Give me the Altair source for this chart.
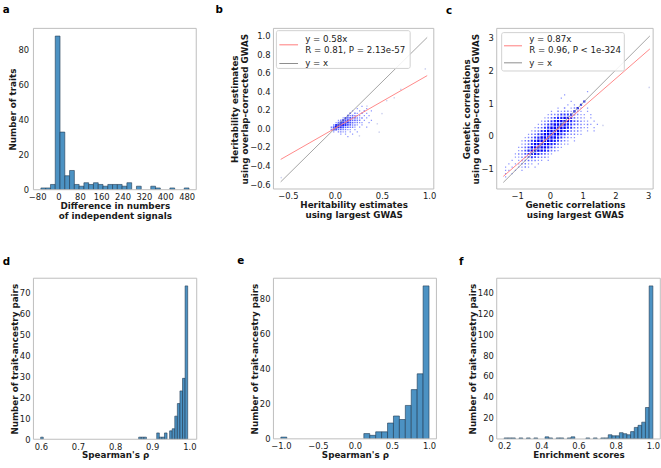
import altair as alt
import pandas as pd

FONT = "DejaVu Sans"
BAR_FILL = "#4c92c3"
BAR_EDGE = "#1f3850"
FRAME = "#bdbdbd"
RED = "#ff7a7a"
GREY = "#8c8c8c"
TEXT = "#1a1a1a"

# ---------------- data ----------------
# (a) difference in numbers of independent signals, equal-width bins
a_start, a_step = -66.0, 17.9
a_counts = [1, 1, 3, 88, 33, 8, 11, 3, 2, 4, 3, 4, 3, 2, 3, 3, 3, 2, 4, 0,
            2, 0, 0, 2, 1, 0, 0, 1, 0, 0, 1]
a_xticks = [-80, 0, 80, 160, 240, 320, 400, 480]
a_yticks = [0, 20, 40, 60, 80]

# (b) heritability estimates: regression, statistics and binned point density
b_slope = 0.58
b_stats = "R = 0.81, P = 2.13e-57"
b_line_x = [-0.576, 0.98]
b_grid_x0, b_grid_top, b_cell = -0.1, 0.25, 0.025
b_rows = [
    (15, "1"),
    (13, "1...1"),
    (11, "1..1.2..1"),
    (10, "3.21.2.1"),
    (9, "423221.1.1"),
    (7, "153433212.1"),
    (5, "1264543322.1..1"),
    (4, "137565432211..1"),
    (3, "25766543221.1"),
    (2, "24865433221.1..1"),
    (2, "254332211.1"),
    (3, "1.2211.1..1"),
    (6, "1.1..1"),
    (9, "1"),
]
b_sparse_x = [0.45, 0.50, 0.55, 0.63, 0.70, 0.47, 0.96, -0.57, 0.34, 0.26]
b_sparse_y = [0.05, 0.16, 0.30, 0.33, 0.42, -0.04, 0.64, -0.53, 0.24, -0.08]
b_xticks = [-0.5, 0.0, 0.5, 1.0]
b_yticks = [-0.6, -0.4, -0.2, 0.0, 0.2, 0.4, 0.6, 0.8, 1.0]

# (c) genetic correlations
c_slope = 0.87
c_stats = "R = 0.96, P < 1e-324"
c_line_x = [-1.42, 3.05]
c_grid_x0, c_grid_top, c_cell = -1.5, 1.4, 0.1
c_rows = [
    (26, "1"),
    (19, "1"),
    (18, "1"),
    (21, "1...7"),
    (20, "1.1.7"),
    (17, "1.2.1281.1"),
    (15, "1.21221821.1"),
    (14, "122355583211.1"),
    (13, "1235679963221.1"),
    (12, "123579999643211.1"),
    (11, "12357999985432121.1"),
    (10, "12357999997532211.1"),
    (9, "1235799999753221.1.1"),
    (8, "12357999997532211"),
    (7, "1235799999753211"),
    (6, "123579999975321.1"),
    (6, "123599999753211"),
    (5, "12359999975321"),
    (5, "1247999975321"),
    (4, "122468864321"),
    (4, "11234543221"),
    (3, "1.12232211.1"),
    (2, "1.112211.1"),
    (1, "1.1.1121.1"),
    (1, "11.1.1"),
    (1, "1.1"),
    (1, "1"),
]
c_sparse_x = [3.03, 1.62]
c_sparse_y = [1.48, 0.32]
c_xticks = [-1, 0, 1, 2, 3]
c_yticks = [-1, 0, 1, 2, 3]

# (d) Spearman's rho, first ancestry set
d_start, d_step = 0.5995, 0.00695
d_counts = [1, 0, 0, 0, 0, 0, 0, 0, 0, 0, 0, 0, 0, 0, 0, 0, 0, 0, 0, 0,
            0, 0, 0, 0, 0, 0, 0, 0, 0, 0, 0, 0, 0, 0, 0, 0, 0, 0, 1, 1,
            1, 0, 0, 0, 0, 3, 1, 1, 3, 0, 4, 5, 11, 17, 23, 29, 73]
d_xticks = [0.6, 0.7, 0.8, 0.9, 1.0]
d_yticks = [0, 10, 20, 30, 40, 50, 60, 70]

# (e) Spearman's rho, second ancestry set
e_start, e_step = -1.0, 0.08
e_counts = [1, 0, 0, 0, 0, 0, 0, 0, 0, 0, 0, 0, 0, 0, 3, 2, 4, 4, 9, 13,
            11, 19, 28, 37, 87]
e_xticks = [-1.0, -0.5, 0.0, 0.5, 1.0]
e_yticks = [0, 20, 40, 60, 80]

# (f) enrichment scores
f_start, f_step = 0.2, 0.02
f_counts = [1, 1, 1, 0, 1, 0, 1, 0, 1, 0, 0, 2, 1, 0, 1, 1, 0, 1, 2, 0,
            0, 0, 1, 0, 1, 0, 1, 1, 4, 3, 3, 6, 5, 4, 7, 11, 13, 16, 30, 146]
f_xticks = [0.2, 0.4, 0.6, 0.8, 1.0]
f_yticks = [0, 20, 40, 60, 80, 100, 120, 140]

ONE = pd.DataFrame({"t": [0]})


# ---------------- helpers ----------------
def letter_mark(letter, dx, dy):
    return alt.Chart(ONE).mark_text(
        align="left", baseline="alphabetic", font=FONT, fontSize=10.5,
        fontWeight="bold", color="black"
    ).encode(x=alt.value(dx), y=alt.value(dy), text=alt.value(letter))


def frame_mark(w, h):
    # light grey box around the plotting area
    return alt.Chart(ONE).mark_rect(
        fillOpacity=0, stroke=FRAME, strokeWidth=1
    ).encode(x=alt.value(0), x2=alt.value(w), y=alt.value(0), y2=alt.value(h))


def anchor_mark(dx, dy):
    # invisible 1px box fixing the top-left corner of the figure
    return alt.Chart(ONE).mark_rect(opacity=0).encode(
        x=alt.value(dx), x2=alt.value(dx + 1), y=alt.value(dy), y2=alt.value(dy + 1)
    )


def xaxis(values, fmt, title):
    return alt.Axis(values=values, format=fmt, title=title, titlePadding=0.5)


def yaxis(values, fmt, title, pad=3.5):
    return alt.Axis(values=values, format=fmt, title=title, titlePadding=0,
                    labelPadding=pad)


def hist_panel(letter, lpos, start, step, counts, xdom, ydom, xticks, yticks,
               xfmt, xtitle, ytitle, w, h, anchor=None, ypad=3.5):
    lo = [start + k * step for k in range(len(counts))]
    df = pd.DataFrame({"lo": lo, "hi": [v + step for v in lo], "n": counts})
    df = df[df["n"] > 0]
    bars = alt.Chart(df).mark_rect(
        fill=BAR_FILL, stroke=BAR_EDGE, strokeWidth=0.6, clip=True
    ).encode(
        x=alt.X("lo:Q", scale=alt.Scale(domain=xdom, nice=False, zero=False),
                axis=xaxis(xticks, xfmt, xtitle)),
        x2="hi:Q",
        y=alt.Y("n:Q", scale=alt.Scale(domain=ydom, nice=False, zero=False),
                axis=yaxis(yticks, "d", ytitle, ypad)),
        y2=alt.datum(0),
    )
    layers = [bars, frame_mark(w, h), letter_mark(letter, *lpos)]
    if anchor:
        layers.append(anchor_mark(*anchor))
    return alt.layer(*layers).properties(width=w, height=h)


def grid_points(rows, x0, top, cell):
    xs, ys, lv = [], [], []
    for j, (start, pattern) in enumerate(rows):
        for k, ch in enumerate(pattern):
            if ch != ".":
                xs.append(x0 + (start + k + 0.5) * cell)
                ys.append(top - (j + 0.5) * cell)
                lv.append(int(ch))
    return pd.DataFrame({"x": xs, "y": ys, "level": lv})


def scatter_panel(letter, lpos, cloud_df, sparse_df, sizes, slope, stats,
                  line_x, xdom, ydom, xticks, yticks, xfmt, yfmt, xtitle,
                  ytitle, w, h, lg):
    X = alt.X("x:Q", scale=alt.Scale(domain=xdom, nice=False, zero=False),
              axis=xaxis(xticks, xfmt, xtitle))
    Y = alt.Y("y:Q", scale=alt.Scale(domain=ydom, nice=False, zero=False),
              axis=yaxis(yticks, yfmt, ytitle))
    faint = alt.Chart(sparse_df).mark_circle(
        color="#cfd3ef", size=3, opacity=1, clip=True
    ).encode(x=X, y=Y)
    cloud = alt.Chart(cloud_df).mark_square(opacity=1, clip=True).encode(
        x=X, y=Y,
        color=alt.Color("level:Q", legend=None,
                        scale=alt.Scale(domain=[1, 5, 9],
                                        range=["#8c95ff", "#2a33ff", "#0000f5"])),
        size=alt.Size("level:Q", legend=None,
                      scale=alt.Scale(domain=[1, 5, 9], range=sizes)),
        order="level:Q",
    )
    ident = alt.Chart(pd.DataFrame({"x": line_x, "y": line_x})).mark_line(
        color=GREY, strokeWidth=0.8, clip=True
    ).encode(x=X, y=Y)
    fit = alt.Chart(pd.DataFrame({"x": line_x, "y": [slope * v for v in line_x]})).mark_line(
        color=RED, strokeWidth=0.9, clip=True
    ).encode(x=X, y=Y)

    box = alt.Chart(ONE).mark_rect(
        fill="white", fillOpacity=0.85, stroke="#d0d0d0", strokeWidth=1, cornerRadius=2
    ).encode(x=alt.value(lg["bx0"]), x2=alt.value(lg["bx1"]),
             y=alt.value(lg["by0"]), y2=alt.value(lg["by1"]))
    red_key = alt.Chart(ONE).mark_rule(color=RED, strokeWidth=1).encode(
        x=alt.value(lg["kx0"]), x2=alt.value(lg["kx1"]), y=alt.value(lg["ky_fit"]))
    grey_key = alt.Chart(ONE).mark_rule(color=GREY, strokeWidth=1).encode(
        x=alt.value(lg["kx0"]), x2=alt.value(lg["kx1"]), y=alt.value(lg["ky_id"]))

    def legend_text(txt, ty):
        return alt.Chart(ONE).mark_text(
            align="left", baseline="middle", font=FONT, fontSize=8.8, color=TEXT
        ).encode(x=alt.value(lg["tx"]), y=alt.value(ty), text=alt.value(txt))

    layers = [cloud, faint, ident, fit, box, red_key, grey_key,
              legend_text(f"y = {slope:.2f}x", lg["t1"]),
              legend_text(stats, lg["t2"]),
              legend_text("y = x", lg["ky_id"]),
              frame_mark(w, h),
              letter_mark(letter, *lpos)]
    return alt.layer(*layers).properties(width=w, height=h)


def spacer(w):
    return alt.Chart(ONE).mark_point(opacity=0).encode(
        x=alt.value(0), y=alt.value(0)
    ).properties(width=w, height=10)


# ---------------- panels ----------------
panel_a = hist_panel(
    "a", (-31.3, -15.5), a_start, a_step, a_counts, [-94, 516], [0, 92.4],
    a_xticks, a_yticks, "d", ["Difference in numbers", "of independent signals"],
    "Number of traits", 165.5, 164, anchor=(-34, -25), ypad=5)

panel_b = scatter_panel(
    "b", (-59, -16), grid_points(b_rows, b_grid_x0, b_grid_top, b_cell),
    pd.DataFrame({"x": b_sparse_x, "y": b_sparse_y}), [1.6, 4.0, 6.0],
    b_slope, b_stats, b_line_x, [-0.653, 1.05], [-0.653, 1.077],
    b_xticks, b_yticks, ".1f", ".1f",
    ["Heritability estimates", "using largest GWAS"],
    ["Heritability estimates", "using overlap-corrected GWAS"], 163, 163.3,
    dict(bx0=3, bx1=139, by0=2.3, by1=40.7, kx0=6, kx1=25, ky_fit=16.7,
         ky_id=35.7, tx=32.3, t1=11.3, t2=22.3))

panel_c = scatter_panel(
    "c", (-51.6, -15), grid_points(c_rows, c_grid_x0, c_grid_top, c_cell),
    pd.DataFrame({"x": c_sparse_x, "y": c_sparse_y}), [3.5, 9.5, 12.5],
    c_slope, c_stats, c_line_x, [-1.62, 3.15], [-1.62, 3.28],
    c_xticks, c_yticks, "d", "d",
    ["Genetic correlations", "using largest GWAS"],
    ["Genetic correlations", "using overlap-corrected GWAS"], 159, 163.3,
    dict(bx0=5, bx1=129.7, by0=4.3, by1=43.3, kx0=7.4, kx1=25.7, ky_fit=17.7,
         ky_id=35, tx=33, t1=11, t2=21.7))

panel_d = hist_panel(
    "d", (-31.3, -13), d_start, d_step, d_counts, [0.58, 1.02], [0, 76.65],
    d_xticks, d_yticks, ".1f", "Spearman's ρ", "Number of trait-ancestry pairs",
    166, 163.7)

panel_e = hist_panel(
    "e", (-36.8, -14.4), e_start, e_step, e_counts, [-1.1, 1.1], [0, 91.35],
    e_xticks, e_yticks, ".1f", "Spearman's ρ", "Number of trait-ancestry pairs",
    165.7, 163.3)

panel_f = hist_panel(
    "f", (-38.3, -13.3), f_start, f_step, f_counts, [0.16, 1.04], [0, 153.3],
    f_xticks, f_yticks, ".1f", "Enrichment scores", "Number of trait-ancestry pairs",
    166.3, 163.4)

chart = alt.concat(
    panel_a, spacer(77.5), panel_b, spacer(54.3), panel_c,
    panel_d, spacer(54.6), panel_e, spacer(60.7), panel_f,
    columns=5,
    spacing={"row": 90, "column": 0},
    bounds="flush",
    align={"row": "each", "column": "none"},
).properties(
    padding=0, background="white"
).configure_view(
    stroke=None
).configure_axis(
    labelFont=FONT, labelFontSize=8.5, labelColor=TEXT,
    titleFont=FONT, titleFontSize=8.9, titleFontWeight="bold", titleColor=TEXT,
    ticks=False, domain=False, grid=False,
    labelOverlap=False, labelFlush=False, titleLineHeight=10,
).configure_axisX(
    labelPadding=3
)

chart.save("out.html", embed_options={"renderer": "svg", "actions": False})
